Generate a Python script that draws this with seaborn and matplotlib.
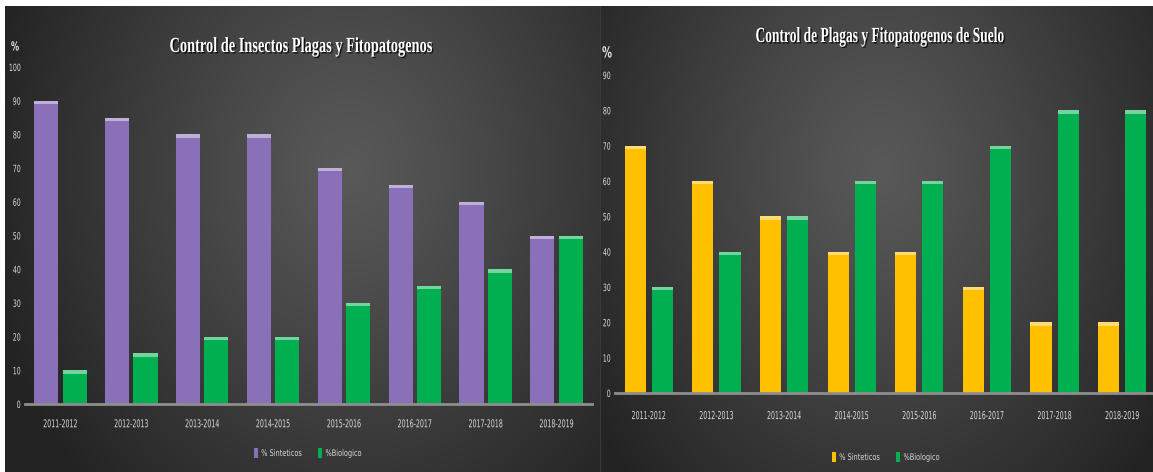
import numpy as np
import pandas as pd
import matplotlib
matplotlib.use("Agg")
import matplotlib.pyplot as plt
import seaborn as sns
from matplotlib.patches import Patch, Rectangle
from matplotlib.patheffects import AbstractPathEffect
from matplotlib.transforms import Affine2D

# ---------------- data ----------------
periods = ["2011-2012", "2012-2013", "2013-2014", "2014-2015",
           "2015-2016", "2016-2017", "2017-2018", "2018-2019"]
series_names = ["% Sinteticos", "%Biologico"]

left_title = "Control de Insectos Plagas y Fitopatogenos"
left_sinteticos = [90, 85, 80, 80, 70, 65, 60, 50]
left_biologico = [10, 15, 20, 20, 30, 35, 40, 50]
left_yticks = [0, 10, 20, 30, 40, 50, 60, 70, 80, 90, 100]

right_title = "Control de Plagas y Fitopatogenos de Suelo"
right_sinteticos = [70, 60, 50, 40, 40, 30, 20, 20]
right_biologico = [30, 40, 50, 60, 60, 70, 80, 80]
right_yticks = [0, 10, 20, 30, 40, 50, 60, 70, 80, 90]

# ---------------- style ----------------
sns.set_style("white")
plt.rcParams['font.family'] = ['DejaVu Sans']

PURPLE = "#8a70b8"
GREEN = "#00b050"
YELLOW = "#ffc000"
TEXT = "#d9d9d9"
AXIS = "#8e8e8e"


class Squeeze(AbstractPathEffect):
    """Draws text glyphs horizontally condensed (the text stays a Text artist)."""

    def __init__(self, sx, anchor="center", shadow=False):
        super().__init__()
        self.sx = sx
        self.anchor = anchor
        self.shadow = shadow

    def draw_path(self, renderer, gc, tpath, affine, rgbFace=None):
        ext = affine.transform_path(tpath).get_extents()
        if self.anchor == "center":
            a = (ext.x0 + ext.x1) / 2
        elif self.anchor == "right":
            a = ext.x1
        else:
            a = ext.x0
        sq = affine + Affine2D().translate(-a, 0).scale(self.sx, 1).translate(a, 0)
        if self.shadow:
            gc0 = renderer.new_gc()
            gc0.copy_properties(gc)
            gc0.set_alpha(0.75)
            off = renderer.points_to_pixels(1.0)
            renderer.draw_path(gc0, tpath, sq + Affine2D().translate(off, -off),
                               (0, 0, 0))
            gc0.restore()
        renderer.draw_path(gc, tpath, sq, rgbFace)


W, H = 1153, 472
fig = plt.figure(figsize=(W / 100, H / 100), dpi=100)
fig.patch.set_facecolor("white")

# background panels with radial gradient
bg = fig.add_axes([0, 0, 1, 1])
bg.axis("off")


def panel(x0, x1, y0, y1, cx, cy):
    w, h = x1 - x0, y1 - y0
    yy, xx = np.mgrid[0:h, 0:w]
    d = np.sqrt(((xx + x0 - cx) / (w * 0.62)) ** 2 + ((yy + y0 - cy) / (h * 0.95)) ** 2)
    d = np.clip(d, 0, 1)
    v = 0.35 - (0.35 - 0.14) * d ** 1.1
    img = np.dstack([v, v, v])
    bg.imshow(img, extent=(x0, x1, y1, y0), interpolation="bilinear", aspect="auto")


panel(5, 600, 6, H, 350, 170)
panel(600, W, 6, H, 880, 170)
bg.plot([600, 600], [6, H], color="#3a3a3a", lw=0.8)
bg.set_xlim(0, W)
bg.set_ylim(H, 0)


def draw(ax, sint, bio, colors, yticks, gap, hl):
    df = pd.DataFrame({
        "Periodo": periods * 2,
        "Serie": [series_names[0]] * len(periods) + [series_names[1]] * len(periods),
        "Valor": sint + bio,
    })
    sns.barplot(data=df, x="Periodo", y="Valor", hue="Serie", palette=colors,
                gap=gap, ax=ax, legend=False, saturation=1, errorbar=None,
                linewidth=0)
    # bevel highlight on top of each bar
    for p in list(ax.patches):
        c = np.array(matplotlib.colors.to_rgb(p.get_facecolor()))
        light = c + (1 - c) * 0.45
        ax.add_patch(Rectangle((p.get_x(), p.get_height() - hl), p.get_width(), hl,
                               facecolor=light, edgecolor="none", zorder=3))
    ax.set_facecolor("none")
    for s in ["top", "right", "left"]:
        ax.spines[s].set_visible(False)
    ax.spines["bottom"].set_color(AXIS)
    ax.spines["bottom"].set_linewidth(2)
    ax.set_yticks(yticks)
    ax.set_ylim(yticks[0], yticks[-1])
    ax.set_xlabel("")
    ax.set_ylabel("")
    ax.grid(False)
    ax.tick_params(axis="both", length=0, colors=TEXT)
    ax.tick_params(axis="x", labelsize=7.8)
    ax.tick_params(axis="y", labelsize=7.2, pad=3)
    for lab in ax.get_xticklabels():
        lab.set_path_effects([Squeeze(0.58, "center")])
    for lab in ax.get_yticklabels():
        lab.set_path_effects([Squeeze(0.62, "right")])


axL = fig.add_axes([25 / W, 1 - 404 / H, 567 / W, (404 - 67) / H])
draw(axL, left_sinteticos, left_biologico, [PURPLE, GREEN], left_yticks, 0.15, 1.0)
axL.tick_params(axis="x", pad=11)

axR = fig.add_axes([615 / W, 1 - 393 / H, 541 / W, (393 - 75) / H])
draw(axR, right_sinteticos, right_biologico, [YELLOW, GREEN], right_yticks, 0.22, 0.9)
axR.tick_params(axis="x", pad=13)

# axis unit labels
fig.text(15 / W, 1 - 47 / H, "%", ha="center", va="center", fontsize=9,
         weight="bold", color="#e6e6e6", path_effects=[Squeeze(0.65)])
fig.text(607 / W, 1 - 53 / H, "%", ha="center", va="center", fontsize=11,
         weight="bold", color="#e6e6e6", path_effects=[Squeeze(0.65)])

# titles, condensed to the reference widths
renderer = fig.canvas.get_renderer()
for txt, cx, cy, target in [(left_title, 301, 47, 263), (right_title, 880, 37, 249)]:
    t = fig.text(cx / W, 1 - cy / H, txt, ha="center", va="center", fontsize=15.5,
                 family=["Liberation Serif", "DejaVu Serif"], weight="bold",
                 color="white")
    wpx = t.get_window_extent(renderer).width
    t.set_path_effects([Squeeze(target / wpx, "center", shadow=True)])

# legends
for cx, cy, cols in [(314, 453, [PURPLE, GREEN]), (892, 457, [YELLOW, GREEN])]:
    handles = [Patch(facecolor=c, edgecolor="none") for c in cols]
    leg = fig.legend(handles, series_names, loc="center",
                     bbox_to_anchor=(cx / W, 1 - cy / H), ncol=2, frameon=False,
                     fontsize=6.4, labelcolor=TEXT, handlelength=0.5,
                     handleheight=1.3, handletextpad=0.35, columnspacing=0.15)
    for t in leg.get_texts():
        t.set_path_effects([Squeeze(0.74, "left")])

fig.savefig("out.png", dpi=100, facecolor=fig.get_facecolor())
